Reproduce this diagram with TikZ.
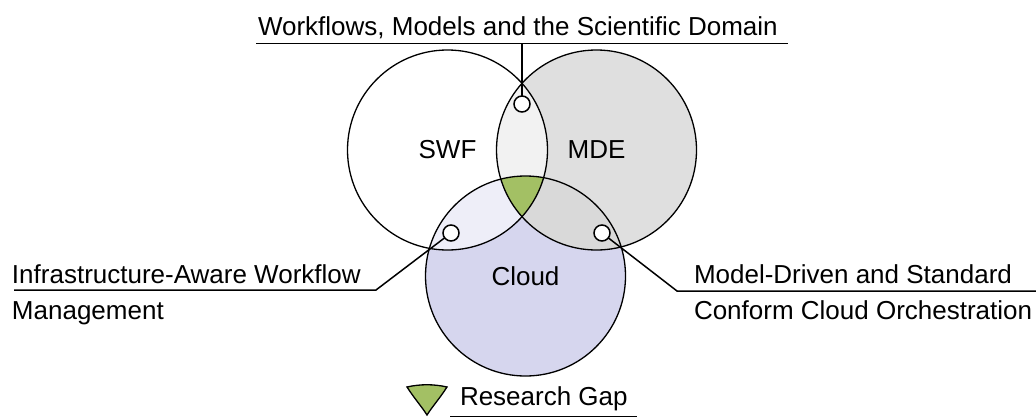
\documentclass[tikz,border=0pt]{standalone}
\usepackage{fontspec}
\setmainfont{Liberation Sans}
\definecolor{mdefill}{HTML}{DFDFDF}
\definecolor{cloudfill}{HTML}{D6D6EE}
\definecolor{swfmde}{HTML}{F2F2F2}
\definecolor{swfcloud}{HTML}{EEEEF8}
\definecolor{mdecloud}{HTML}{D9D9D9}
\definecolor{gapgreen}{HTML}{A3C064}
\begin{document}
\begin{tikzpicture}[x=1pt,y=-1pt,
  every node/.style={font=\fontsize{26}{31}\selectfont, inner sep=0pt, outer sep=0pt},
  setcircle/.style={circle, draw, minimum size=200pt, line width=1.3pt},
  port/.style={circle, draw, fill=white, minimum size=16pt, line width=1.5pt},
  lead/.style={line width=1.5pt},
  txt/.style={anchor=base west}]
\useasboundingbox (0,0) rectangle (1036,418);

% centres of the three sets
\coordinate (cS) at (447.5,150);
\coordinate (cM) at (596.5,150);
\coordinate (cC) at (525.5,276);

% region fills
\fill[mdefill] (cM) circle[radius=100pt];
\fill[cloudfill] (cC) circle[radius=100pt];
\begin{scope}
  \clip (cS) circle[radius=100pt];
  \fill[swfmde] (cM) circle[radius=100pt];
  \fill[swfcloud] (cC) circle[radius=100pt];
\end{scope}
\begin{scope}
  \clip (cM) circle[radius=100pt];
  \fill[mdecloud] (cC) circle[radius=100pt];
  \clip (cS) circle[radius=100pt];
  \fill[gapgreen] (cC) circle[radius=100pt];
\end{scope}

% set outlines with labels
\node[setcircle] (swf) at (cS) {SWF};
\node[setcircle] (mde) at (cM) {MDE};
\node[setcircle] (cloud) at (cC) {Cloud};

% pointer markers
\node[port] (pt) at (522,104) {};
\node[port] (pl) at (451,233) {};
\node[port] (pr) at (602,233) {};

% top label
\coordinate (ttop) at (522,43.5);
\coordinate (tl) at (256,43.5);
\coordinate (tr) at (788,43.5);
\draw[lead] (pt) -- (ttop);
\draw[lead] (tl) -- (tr);
\node[txt] (ltop) at (258,35) {Workflows, Models and the Scientific Domain};

% left label
\coordinate (lbend) at (376,290);
\coordinate (lend) at (14,290);
\draw[lead] (pl) -- (lbend) -- (lend);
\node[txt] (lleft1) at (12,283) {Infrastructure-Aware Workflow};
\node[txt] (lleft2) at (12,319) {Management};

% right label
\coordinate (rbend) at (677,291);
\coordinate (rend) at (1036,291);
\draw[lead] (pr) -- (rbend) -- (rend);
\node[txt] (lright1) at (694,283) {Model-Driven and Standard};
\node[txt] (lright2) at (694,319) {Conform Cloud Orchestration};

% legend
\draw[line width=1.3pt, fill=gapgreen] (407,387) .. controls (420,384) and (434,384) .. (447,387)
  .. controls (440,398) and (432,407) .. (427,415)
  .. controls (422,407) and (414,398) .. (407,387) -- cycle;
\node[txt] (lgap) at (460,405) {Research Gap};
\coordinate (gl) at (450,416.5);
\coordinate (gr) at (637,416.5);
\draw[lead] (gl) -- (gr);
\end{tikzpicture}
\end{document}
